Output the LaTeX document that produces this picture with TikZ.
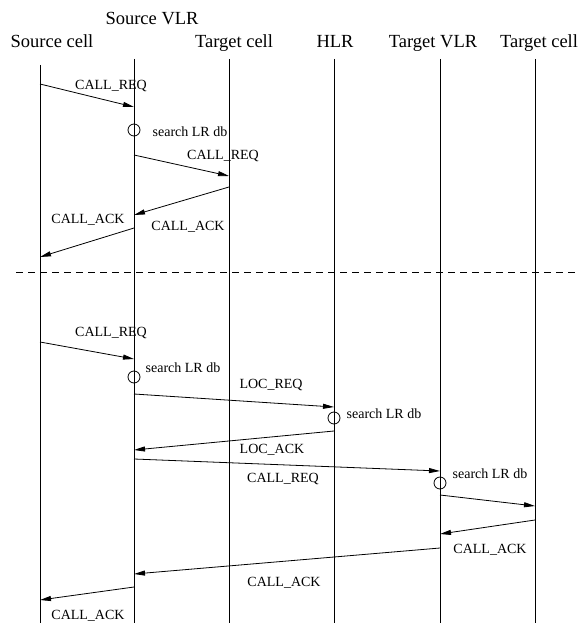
\documentclass[tikz,border=0pt]{standalone}
\usepackage{fontspec}
\setmainfont{Liberation Serif}
\usepackage{tikz}
\usetikzlibrary{arrows.meta}
\tikzset{
  actor/.style={font=\fontsize{18.5}{20}\selectfont,inner sep=0pt,anchor=base},
  lifeline/.style={draw=black,line width=0.8pt},
  msg/.style={-{Triangle[length=11pt,width=5pt]},line width=0.8pt,draw=black},
  tag/.style={font=\fontsize{14}{16}\selectfont,inner sep=0pt,anchor=base},
  lookup/.style={circle,draw,line width=0.8pt,minimum size=12pt,inner sep=0pt},
  divider/.style={line width=0.8pt,dash pattern=on 7pt off 5pt}
}
\begin{document}
\begin{tikzpicture}[x=1pt,y=-1pt]
  \useasboundingbox (0,0) rectangle (585,623);
  % entities
  \node[actor] (srccell) at (52,48) {Source cell};
  \node[actor] (srcvlr) at (152,25) {Source VLR};
  \node[actor] (tgtcell) at (234,48) {Target cell};
  \node[actor] (hlr) at (335,48) {HLR};
  \node[actor] (tgtvlr) at (433,48) {Target VLR};
  \node[actor] (tgtcellb) at (539,48) {Target cell};
  % lifelines
  \coordinate (bot) at (0,623);
  \coordinate (sc) at (40,65);
  \coordinate (sv) at (134,59);
  \coordinate (tc) at (229,59);
  \coordinate (hl) at (334,59);
  \coordinate (tv) at (440,59);
  \coordinate (tcb) at (535,59);
  \foreach \l in {sc,sv,tc,hl,tv,tcb}
    \draw[lifeline] (\l) -- (\l |- bot);

  % target cell under the same VLR
  \coordinate (r1a) at (40,84);   \coordinate (r1b) at (134,107);
  \coordinate (r2a) at (134,155); \coordinate (r2b) at (229,176);
  \coordinate (k1a) at (229,187); \coordinate (k1b) at (134,215);
  \coordinate (k2a) at (134,228); \coordinate (k2b) at (40,257);
  \node[lookup] (db1) at (134,130) {};
  \draw[msg] (r1a) -- (r1b);
  \draw[msg] (r2a) -- (r2b);
  \draw[msg] (k1a) -- (k1b);
  \draw[msg] (k2a) -- (k2b);
  \node[tag] (t1) at (111,89.5) {CALL\_REQ};
  \node[tag] (s1) at (190,136.5) {search LR db};
  \node[tag] (t2) at (223,159) {CALL\_REQ};
  \node[tag] (t3) at (188,230) {CALL\_ACK};
  \node[tag] (t4) at (88,223.5) {CALL\_ACK};

  \coordinate (dl) at (16,272); \coordinate (dr) at (575,272);
  \draw[divider] (dl) -- (dr);

  % target cell under another VLR
  \coordinate (r3a) at (40,342);  \coordinate (r3b) at (134,359);
  \coordinate (l1a) at (134,394); \coordinate (l1b) at (334,407);
  \coordinate (l2a) at (334,431); \coordinate (l2b) at (134,450);
  \coordinate (r4a) at (134,459); \coordinate (r4b) at (440,471);
  \coordinate (r5a) at (440,495); \coordinate (r5b) at (535,506);
  \coordinate (k3a) at (535,520); \coordinate (k3b) at (440,534);
  \coordinate (k4a) at (440,548); \coordinate (k4b) at (134,574);
  \coordinate (k5a) at (134,587); \coordinate (k5b) at (40,600);
  \node[lookup] (db2) at (134,377) {};
  \node[lookup] (db3) at (334,418) {};
  \node[lookup] (db4) at (440,483) {};
  \draw[msg] (r3a) -- (r3b);
  \draw[msg] (l1a) -- (l1b);
  \draw[msg] (l2a) -- (l2b);
  \draw[msg] (r4a) -- (r4b);
  \draw[msg] (r5a) -- (r5b);
  \draw[msg] (k3a) -- (k3b);
  \draw[msg] (k4a) -- (k4b);
  \draw[msg] (k5a) -- (k5b);
  \node[tag] (t5) at (111,336.5) {CALL\_REQ};
  \node[tag] (s2) at (183,372) {search LR db};
  \node[tag] (t6) at (271,388.5) {LOC\_REQ};
  \node[tag] (s3) at (384,418) {search LR db};
  \node[tag] (t7) at (272,453.5) {LOC\_ACK};
  \node[tag] (t8) at (283,482.5) {CALL\_REQ};
  \node[tag] (s4) at (490,478) {search LR db};
  \node[tag] (t9) at (490,553.5) {CALL\_ACK};
  \node[tag] (t10) at (284,586.5) {CALL\_ACK};
  \node[tag] (t11) at (88,619.5) {CALL\_ACK};
\end{tikzpicture}
\end{document}
